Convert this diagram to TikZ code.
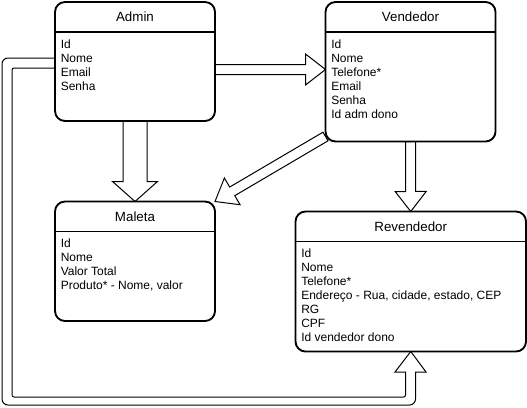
\documentclass[tikz,border=0pt]{standalone}
\usepackage{fontspec}
\setmainfont{Liberation Sans}
\usetikzlibrary{calc,backgrounds}
\tikzset{
 ent/.style={draw, line width=1.4pt, rounded corners=7.5pt, fill=white, inner sep=0pt, outer sep=0pt},
 ttl/.style={font=\fontsize{10}{12}\selectfont, inner sep=0pt},
 body/.style={font=\fontsize{9}{10.5}\selectfont, align=left, inner sep=0pt, anchor=north west},
 sepline/.style={line width=1.3pt},
 fat/.style={draw, line width=0.75pt, fill=white, line join=miter},
}
\newcommand\fatarrow[5]{%
 \coordinate (fah) at ($(#2)!#5!(#1)$);
 \draw[fat] ($(#1)!#3!90:(#2)$) -- ($(fah)!#3!-90:(#1)$) -- ($(fah)!#4!-90:(#1)$) -- (#2) -- ($(fah)!#4!90:(#1)$) -- ($(fah)!#3!90:(#1)$) -- ($(#1)!#3!-90:(#2)$) -- cycle;
}
\begin{document}
\begin{tikzpicture}[x=0.75pt,y=-0.75pt]
\useasboundingbox (0,0) rectangle (527,407);
% entities
\node[ent, minimum width=120pt, minimum height=89.25pt] (admin) at (135,61.5) {};
\node[ent, minimum width=127.5pt, minimum height=104.625pt] (vend) at (410.5,71.75) {};
\node[ent, minimum width=120pt, minimum height=89.625pt] (maleta) at (135,261.25) {};
\node[ent, minimum width=172.875pt, minimum height=105pt] (rev) at (410.75,281.5) {};
\foreach \b in {admin,vend,maleta,rev}{
 \draw[sepline] ($(\b.north west)+(0,30)$) -- ($(\b.north east)+(0,30)$);
}
\node[ttl] (admin-t) at ($(admin.north)+(0,15)$) {Admin};
\node[ttl] (vend-t) at ($(vend.north)+(0,15)$) {Vendedor};
\node[ttl] (maleta-t) at ($(maleta.north)+(0,15)$) {Maleta};
\node[ttl] (rev-t) at ($(rev.north)+(0,15)$) {Revendedor};
\node[body] (admin-b) at ($(admin.north west)+(5.5,37.5)$) {Id\\Nome\\Email\\Senha};
\node[body] (vend-b) at ($(vend.north west)+(5.5,37.5)$) {Id\\Nome\\Telefone*\\Email\\Senha\\Id adm dono};
\node[body] (maleta-b) at ($(maleta.north west)+(5.5,37.5)$) {Id\\Nome\\Valor Total\\Produto* - Nome, valor};
\node[body] (rev-b) at ($(rev.north west)+(5.5,37.5)$) {Id\\Nome\\Telefone*\\Endereço - Rua, cidade, estado, CEP\\RG\\CPF\\Id vendedor dono};
% connectors
\begin{scope}[on background layer]
\fill[white] (0,0) rectangle (527,407);
\coordinate (a1) at ($(admin.east)+(0,8)$);
\coordinate (v1) at ($(vend.west)+(0,-2.25)$);
\fatarrow{a1}{v1}{3.75pt}{11.625pt}{15pt}
\fatarrow{admin.south}{maleta.north}{9pt}{16.875pt}{15pt}
\coordinate (v2) at ($(vend.south west)+(0,-5)$);
\fatarrow{v2}{maleta.north east}{3.75pt}{11.625pt}{15pt}
\fatarrow{vend.south}{rev.north}{3.75pt}{11.625pt}{15pt}
\coordinate (ao) at ($(admin.west)+(0,-3.5)$);
\coordinate (ai) at ($(admin.west)+(0,6.5)$);
\draw[fat] (ao) [rounded corners=4.5pt] -- (2,58) -- (2,405) -- (415.5,405) -- (415.5,390) [sharp corners] -- (415.5,372) -- (426,372) -- (rev.south) -- (395,372) -- (405.5,372) -- (405.5,385) [rounded corners=1.5pt] -- (405.5,397) -- (12,397) -- (12,68) -- (30,68) [sharp corners] -- (ai);
\end{scope}
\end{tikzpicture}
\end{document}
